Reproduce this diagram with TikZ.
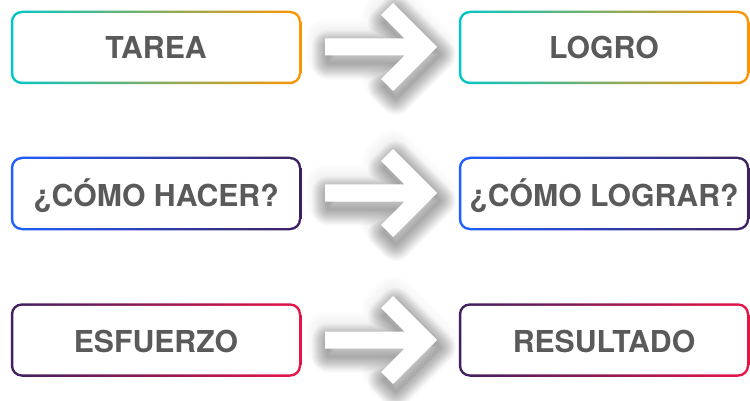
\documentclass[tikz,border=0pt]{standalone}
\usepackage{fontspec}
\setmainfont{TeX Gyre Heros}
\definecolor{txt}{RGB}{90,90,90}
\definecolor{tealA}{RGB}{0,198,198}
\definecolor{orngA}{RGB}{255,148,0}
\definecolor{blueA}{RGB}{30,95,255}
\definecolor{purpA}{RGB}{62,32,96}
\definecolor{crimA}{RGB}{232,20,70}
\tikzset{
  lbl/.style={text=txt, font=\fontsize{30.2}{31}\selectfont\bfseries, inner sep=0pt, anchor=base},
  halolayer/.style={draw=black, draw opacity=0.007, line join=round},
  droplayer/.style={draw=black, draw opacity=0.021, line join=round},
  arrowbody/.style={fill=white}
}
\def\arrowpath{(325,-8.5) -- (404.5,-8.5) -- (381,-32) -- (393,-44) -- (437,0)
     -- (393,44) -- (381,32) -- (404.5,8.5) -- (325,8.5) -- cycle}
% #1 name, #2 cx, #3 cy, #4 left colour, #5 right colour, #6 text, #7 baseline y
\newcommand{\gradbox}[7]{%
  \shade[left color=#4, right color=#5, rounded corners=11.25pt]
    ({#2-145.25},{#3-36.75}) rectangle ({#2+145.25},{#3+36.75});
  \fill[white, rounded corners=8.75pt]
    ({#2-142.75},{#3-34.25}) rectangle ({#2+142.75},{#3+34.25});
  \node[lbl] (#1) at (#2,#7) {#6};}
\newcommand{\bigarrow}[2]{%
  \foreach \w in {4,8,...,40} {\path[halolayer, line width=\w pt, shift={(0,#2)}] \arrowpath;}
  \foreach \w in {2,4,...,32} {\path[droplayer, line width=\w pt, shift={(3,#2+8)}] \arrowpath;}
  \path[arrowbody, shift={(0,#2)}] \arrowpath;
  \coordinate (#1) at (381,#2);}
\begin{document}
\begin{tikzpicture}[x=1pt, y=-1pt]
  \useasboundingbox[fill=white] (0,0) rectangle (750,401);
  \bigarrow{a1}{47}
  \bigarrow{a2}{193}
  \bigarrow{a3}{340}
  \gradbox{tarea}{156}{47.5}{tealA}{orngA}{TAREA}{58.5}
  \gradbox{logro}{604}{47.5}{tealA}{orngA}{LOGRO}{58.5}
  \gradbox{hacer}{156}{193.5}{blueA}{purpA}{¿CÓMO HACER?}{207}
  \gradbox{lograr}{604}{193.5}{blueA}{purpA}{¿CÓMO LOGRAR?}{207}
  \gradbox{esfuerzo}{156}{340}{purpA}{crimA}{ESFUERZO}{352}
  \gradbox{resultado}{604}{340}{purpA}{crimA}{RESULTADO}{352}
\end{tikzpicture}
\end{document}
